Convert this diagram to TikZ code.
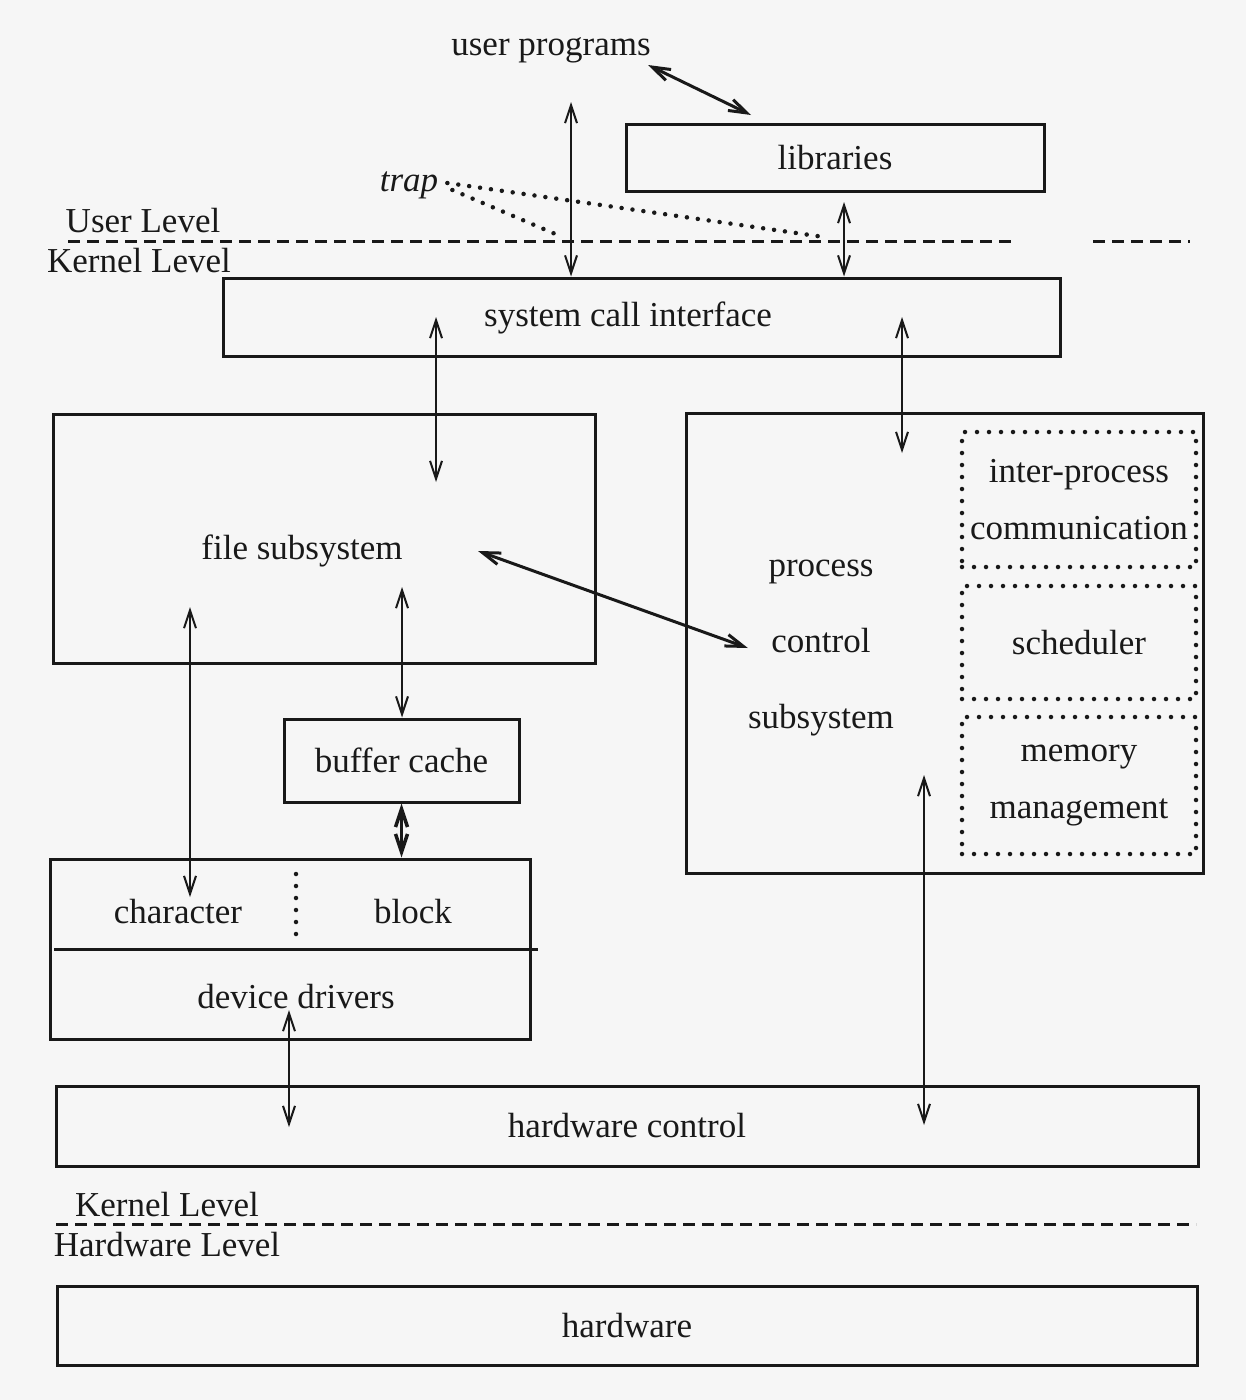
\documentclass[tikz,border=0pt]{standalone}
\usepackage{fontspec}
\setmainfont{Liberation Serif}
\usetikzlibrary{arrows.meta, positioning, calc}
\definecolor{ink}{RGB}{25,25,25}
\definecolor{paper}{RGB}{246,246,246}

\begin{document}
\begin{tikzpicture}[x=1pt, y=-1pt, inner sep=0pt,
    font=\fontsize{35}{42}\selectfont, text=ink,
    >={Straight Barb[length=18pt, width=12pt]},
    box/.style={draw=ink, line width=3pt},
    subbox/.style={draw=ink, line width=4.5pt, line cap=round, dash pattern=on 0pt off 12pt,
      align=center, font=\fontsize{35}{57}\selectfont},
    link/.style={<->, draw=ink, line width=2pt},
    biglink/.style={<->, draw=ink, line width=3pt},
    levelline/.style={draw=ink, line width=3pt, dash pattern=on 12pt off 7pt},
    trapline/.style={draw=ink, line width=4.5pt, line cap=round, dash pattern=on 0pt off 11pt}]

  % paper
  \fill[paper] (0,0) rectangle (1246,1400);

  % user level
  \node (user) at (551,50) {user programs};
  \node[box, minimum width=418pt, minimum height=67pt] (lib) at (835,157.5) {libraries};
  \node (trap) at (409,185) {\itshape trap};
  \node (ulevel) at (143,221) {User Level};
  \node (klevel) at (139,261) {Kernel Level};
  \draw[levelline] (68,241) -- (1017,241);
  \draw[levelline] (1093,241) -- (1190,241);

  % kernel
  \node[box, minimum width=837pt, minimum height=78pt] (sci) at (641.5,317) {};
  \node (scitext) at (628,318) {system call interface};

  \node[box, minimum width=542pt, minimum height=249pt] (file) at (324,538.5) {};
  \node (filetext) at (302,551) {file subsystem};

  \node[box, minimum width=517pt, minimum height=460pt] (proc) at (944.5,643) {};
  \node[align=center, font=\fontsize{35}{76}\selectfont] (proctext) at (821,648) {process\\control\\subsystem};
  \node[subbox, minimum width=234pt, minimum height=135pt] (ipc) at (1079,499.5) {inter-process\\communication};
  \node[subbox, minimum width=234pt, minimum height=113pt] (sched) at (1079,642.5) {scheduler};
  \node[subbox, minimum width=234pt, minimum height=137pt] (mem) at (1079,785.5) {memory\\management};

  \node[box, minimum width=235pt, minimum height=83pt] (buf) at (401.5,760.5) {buffer cache};

  \node[box, minimum width=480pt, minimum height=180pt] (dev) at (290,949) {};
  \node (chartext) at (178,912) {character};
  \node (blocktext) at (413,912) {block};
  \node (devtext) at (296,997) {device drivers};
  \draw[ink, line width=3pt] (54,949) -- (538,949);
  \draw[ink, line width=4.5pt, line cap=round, dash pattern=on 0pt off 12pt] (296,874) -- (296,937);

  \node[box, minimum width=1142pt, minimum height=80pt] (hwc) at (627,1126) {hardware control};

  % hardware level
  \node (klevel2) at (167,1205) {Kernel Level};
  \draw[levelline] (56,1224) -- (1196,1224);
  \node (hlevel) at (167,1245) {Hardware Level};
  \node[box, minimum width=1140pt, minimum height=79pt] (hw) at (627,1325.5) {hardware};

  % free ends of the connectors
  \coordinate (up-lib) at (648,65);
  \coordinate (lib-up) at (751,115);
  \coordinate (up-sci) at (571,102);
  \coordinate (lib-sci) at (844,202);
  \coordinate (sci-file) at (436,317);
  \coordinate (file-sci) at (436,482);
  \coordinate (sci-proc) at (902,317);
  \coordinate (proc-sci) at (902,453);
  \coordinate (file-proc) at (478,551);
  \coordinate (file-buf) at (402,587);
  \coordinate (file-char) at (190,607);
  \coordinate (char-file) at (190,897);
  \coordinate (dev-hwc) at (289,1010);
  \coordinate (hwc-dev) at (289,1127);
  \coordinate (proc-hwc) at (924,775);
  \coordinate (hwc-proc) at (924,1125);
  \coordinate (trap-sci) at (560,236);
  \coordinate (trap-lib) at (824,237);

  % connectors
  \draw[biglink] (up-lib) -- (lib-up);
  \draw[link] (up-sci) -- (up-sci |- sci.north);
  \draw[link] (lib-sci) -- (lib-sci |- sci.north);
  \draw[link] (sci-file) -- (file-sci);
  \draw[link] (sci-proc) -- (proc-sci);
  \draw[biglink] (file-proc) -- (proctext.west);
  \draw[link] (file-buf) -- (file-buf |- buf.north);
  \draw[link, line width=3.5pt] (buf.south) -- (buf.south |- dev.north);
  \draw[link] (file-char) -- (char-file);
  \draw[link] (dev-hwc) -- (hwc-dev);
  \draw[link] (proc-hwc) -- (hwc-proc);
  \draw[trapline] ([xshift=9pt, yshift=2pt]trap.east) -- (trap-lib);
  \draw[trapline] ([xshift=14pt, yshift=-5pt]trap.east) -- (trap-sci);
\end{tikzpicture}
\end{document}
